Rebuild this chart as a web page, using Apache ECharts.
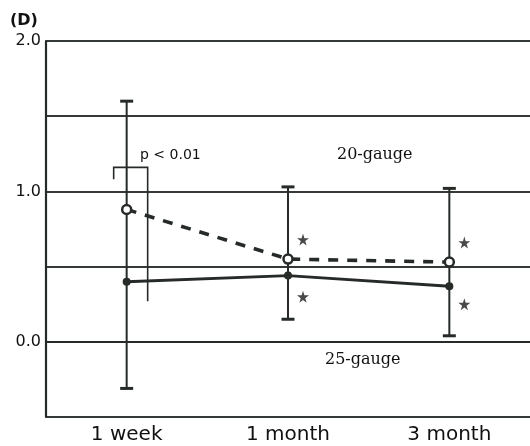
<!DOCTYPE html>
<html>
<head>
<meta charset="utf-8">
<script src="https://cdn.jsdelivr.net/npm/echarts@6/dist/echarts.min.js"></script>
<style>html,body{margin:0;padding:0;background:#fff}#c{width:530px;height:446px}</style>
</head>
<body>
<div id="c"></div>
<script>
// ---- data ----
const categories = ['1 week', '1 month', '3 month'];
const g20Mean  = [0.88, 0.55, 0.53];
const g20Upper = [1.60, 1.03, 1.02];
const g25Mean  = [0.40, 0.44, 0.37];
const g25Lower = [-0.31, 0.15, 0.04];
const starG20  = [null, 0.68, 0.66];
const starG25  = [null, 0.30, 0.25];
const bracketCat = 0;
const bracketTop = 1.16;
const bracketLeftEnd = 1.08;
const bracketRightEnd = 0.27;
const yMin = -0.5, yMax = 2.0, yStep = 0.5;

const INK = '#262b28';
const STAR = 'path://M50,0 L61,35 L98,35 L68,57 L79,91 L50,70 L21,91 L32,57 L2,35 L39,35 Z';

const chart = echarts.init(document.getElementById('c'), null, {renderer: 'canvas'});

const errData = categories.map((c, i) => [i, g20Upper[i], g25Lower[i]]);

chart.setOption({
  animation: false,
  backgroundColor: '#fff',
  grid: {left: 46, right: -5, top: 41, bottom: 29, containLabel: false},
  xAxis: {
    type: 'category',
    data: categories,
    boundaryGap: true,
    axisLine: {show: true, lineStyle: {color: INK, width: 2.2}},
    axisTick: {show: false},
    axisLabel: {color: '#111', fontFamily: 'DejaVu Sans', fontSize: 20, margin: 8},
    splitLine: {show: false}
  },
  yAxis: {
    type: 'value',
    min: yMin, max: yMax, interval: yStep,
    axisLine: {show: true, lineStyle: {color: INK, width: 2.2}},
    axisTick: {show: false},
    axisLabel: {
      color: '#111', fontFamily: 'DejaVu Sans', fontSize: 16, margin: 5,
      formatter: v => (v >= 0 && Math.abs(v - Math.round(v)) < 1e-6) ? v.toFixed(1) : ''
    },
    splitLine: {show: true, lineStyle: {color: '#353a37', width: 1.8}}
  },
  series: [
    {
      type: 'custom',
      name: 'errorbars',
      z: 2,
      data: errData,
      renderItem: function (params, api) {
        const x = api.value(0);
        const top = api.coord([x, api.value(1)]);
        const bot = api.coord([x, api.value(2)]);
        const hw = 6.5;
        return {
          type: 'group',
          children: [
            {type: 'line', shape: {x1: top[0], y1: top[1], x2: bot[0], y2: bot[1]}, style: {stroke: INK, lineWidth: 2}},
            {type: 'line', shape: {x1: top[0] - hw, y1: top[1], x2: top[0] + hw, y2: top[1]}, style: {stroke: INK, lineWidth: 3}},
            {type: 'line', shape: {x1: bot[0] - hw, y1: bot[1], x2: bot[0] + hw, y2: bot[1]}, style: {stroke: INK, lineWidth: 3}}
          ]
        };
      }
    },
    {
      type: 'custom',
      name: 'bracket',
      z: 2,
      data: [[bracketCat, bracketTop, bracketLeftEnd, bracketRightEnd]],
      renderItem: function (params, api) {
        const x = api.value(0);
        const t = api.coord([x, api.value(1)]);
        const l = api.coord([x, api.value(2)]);
        const r = api.coord([x, api.value(3)]);
        return {
          type: 'polyline',
          shape: {points: [[t[0] - 13, l[1]], [t[0] - 13, t[1]], [t[0] + 21, t[1]], [t[0] + 21, r[1]]]},
          style: {stroke: INK, lineWidth: 1.6, fill: null}
        };
      }
    },
    {
      type: 'line',
      name: '20-gauge',
      z: 4,
      data: g20Mean,
      symbol: 'circle',
      symbolSize: 9,
      lineStyle: {color: INK, width: 3.6, type: [10, 9]},
      itemStyle: {color: '#fff', borderColor: INK, borderWidth: 2.5}
    },
    {
      type: 'line',
      name: '25-gauge',
      z: 4,
      data: g25Mean,
      symbol: 'circle',
      symbolSize: 8,
      lineStyle: {color: INK, width: 3},
      itemStyle: {color: INK, borderColor: INK, borderWidth: 0}
    },
    {
      type: 'scatter',
      name: 'sig20',
      z: 4,
      data: starG20,
      symbol: STAR,
      symbolSize: 12,
      symbolOffset: [15, 0],
      itemStyle: {color: '#1a1d1b'}
    },
    {
      type: 'scatter',
      name: 'sig25',
      z: 4,
      data: starG25,
      symbol: STAR,
      symbolSize: 12,
      symbolOffset: [15, 0],
      itemStyle: {color: '#1a1d1b'}
    }
  ],
  graphic: [
    {type: 'text', left: 10, top: 13, style: {text: '(D)', font: 'bold 16px "DejaVu Sans"', fill: '#111'}},
    {type: 'text', x: 140, y: 155, style: {text: 'p < 0.01', font: '14px "DejaVu Sans"', fill: '#111', verticalAlign: 'middle'}},
    {type: 'text', x: 337, y: 155, style: {text: '20-gauge', font: '16px "DejaVu Serif"', fill: '#111', verticalAlign: 'middle'}},
    {type: 'text', x: 325, y: 360, style: {text: '25-gauge', font: '16px "DejaVu Serif"', fill: '#111', verticalAlign: 'middle'}}
  ]
});
</script>
</body>
</html>
